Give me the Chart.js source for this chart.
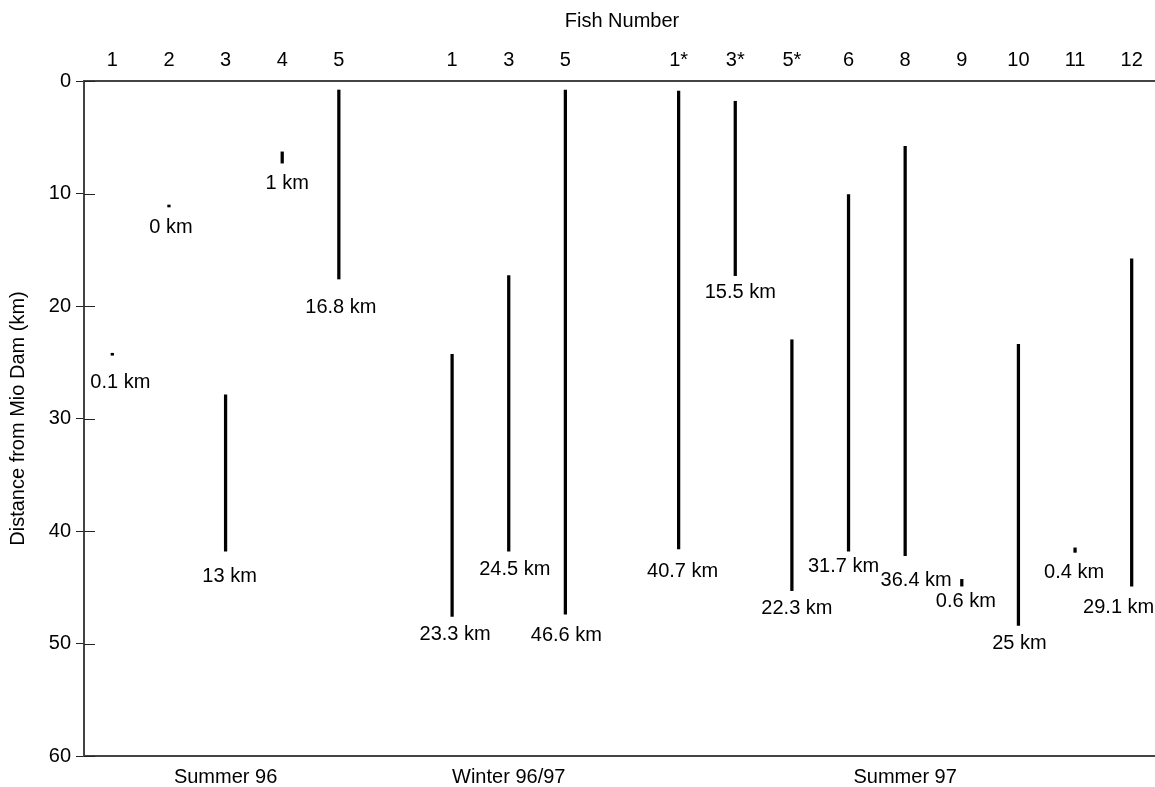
<!DOCTYPE html>
<html>
<head>
<meta charset="utf-8">
<script src="https://cdn.jsdelivr.net/npm/chart.js@4.4.1/dist/chart.umd.min.js"></script>
<style>
  html, body { margin: 0; padding: 0; background: #fff; overflow: hidden; }
  #wrap { width: 1160px; height: 787px; position: relative; }
</style>
</head>
<body>
<div id="wrap"><canvas id="c"></canvas></div>
<script>
// ---- data ----
const fishLabels   = ['1','2','3','4','5','','1','3','5','','1*','3*','5*','6','8','9','10','11','12'];
const seasonLabels = ['','','Summer 96','','','','','Winter 96/97','','','','','','','Summer 97','','','',''];
const rangeStart   = [24.2, 11.2, 27.9, 6.3, 0.8, null, 24.3, 17.3, 0.8, null, 0.9, 1.8, 23.0, 10.1, 5.8, 44.3, 23.4, 41.5, 15.8];
const rangeEnd     = [24.3, 11.2, 41.8, 7.3, 17.6, null, 47.6, 41.8, 47.4, null, 41.6, 17.3, 45.3, 41.8, 42.2, 44.9, 48.4, 41.9, 44.9];
const rangeLabels  = ['0.1 km','0 km','13 km','1 km','16.8 km','','23.3 km','24.5 km','46.6 km','','40.7 km','15.5 km','22.3 km','31.7 km','36.4 km','0.6 km','25 km','0.4 km','29.1 km'];
const yTicks       = [0, 10, 20, 30, 40, 50, 60];

const FONT = '"Liberation Sans", Arial, Helvetica, sans-serif';
const font20 = { family: FONT, size: 20 };

// label placement tweaks (pixels), purely typographic
const labelNudge = [[5,8],[-1,0],[1,5],[2,0],[-1,8],[0,0],[0,-2],[3,-2],[-2,1],[0,0],[1,2],[2,-3],[2,-2],[-8,-5],[8,5],[1,-5],[-2,-2],[-4,0],[-16,1]];

const annot = {
  id: 'annot',
  afterDatasetsDraw(chart) {
    const ctx = chart.ctx;
    const y = chart.scales.y;
    const area = chart.chartArea;
    ctx.save();
    ctx.strokeStyle = '#222';
    ctx.lineWidth = 1;
    y.ticks.forEach(t => {
      const py = Math.round(y.getPixelForValue(t.value)) + 0.5;
      ctx.beginPath();
      ctx.moveTo(area.left, py);
      ctx.lineTo(area.left + 11, py);
      ctx.stroke();
    });
    ctx.font = '20px ' + FONT;
    ctx.fillStyle = '#000';
    ctx.textAlign = 'center';
    ctx.textBaseline = 'middle';
    const meta = chart.getDatasetMeta(0);
    meta.data.forEach((bar, i) => {
      if (rangeEnd[i] == null || !rangeLabels[i]) return;
      const n = labelNudge[i] || [0, 0];
      const px = bar.x + 3 + n[0];
      const py = y.getPixelForValue(rangeEnd[i]) + 20 + n[1];
      ctx.fillText(rangeLabels[i], px, py);
    });
    ctx.restore();
  }
};

new Chart(document.getElementById('c'), {
  type: 'bar',
  data: {
    labels: fishLabels,
    datasets: [{
      data: rangeStart.map((s, i) => s == null ? null : [s, rangeEnd[i]]),
      backgroundColor: '#000',
      borderWidth: 0,
      barThickness: 2.6,
      minBarLength: 2,
      xAxisID: 'x',
      yAxisID: 'y'
    }]
  },
  options: {
    responsive: true,
    maintainAspectRatio: false,
    animation: false,
    layout: { padding: 0 },
    plugins: { legend: { display: false }, tooltip: { enabled: false } },
    scales: {
      x: {
        type: 'category',
        position: 'top',
        labels: fishLabels,
        offset: true,
        grid: { display: false, drawTicks: false },
        border: { display: true, color: '#444', width: 2 },
        ticks: { autoSkip: false, maxRotation: 0, minRotation: 0, color: '#000', font: font20, padding: 9 },
        title: { display: true, text: 'Fish Number', color: '#000', font: font20, padding: { top: 9, bottom: 0 } },
        afterFit: s => { s.height = 81; }
      },
      x2: {
        type: 'category',
        position: 'bottom',
        labels: seasonLabels,
        offset: true,
        grid: { display: false, drawTicks: false },
        border: { display: true, color: '#444', width: 2 },
        ticks: { autoSkip: false, maxRotation: 0, minRotation: 0, color: '#000', font: font20, padding: 9 },
        afterFit: s => { s.height = 31; }
      },
      y: {
        type: 'linear',
        reverse: true,
        min: yTicks[0],
        max: yTicks[yTicks.length - 1],
        afterBuildTicks: s => { s.ticks = yTicks.map(v => ({ value: v })); },
        grid: { display: true, drawOnChartArea: false, drawTicks: true, tickLength: 8, color: '#222', lineWidth: 1 },
        border: { display: true, color: '#444', width: 2 },
        ticks: { color: '#000', font: font20, padding: 5 },
        title: { display: true, text: 'Distance from Mio Dam (km)', color: '#000', font: font20, padding: { top: 6, bottom: 0 } },
        afterFit: s => { s.width = 84; }
      }
    }
  },
  plugins: [annot]
});
</script>
</body>
</html>
